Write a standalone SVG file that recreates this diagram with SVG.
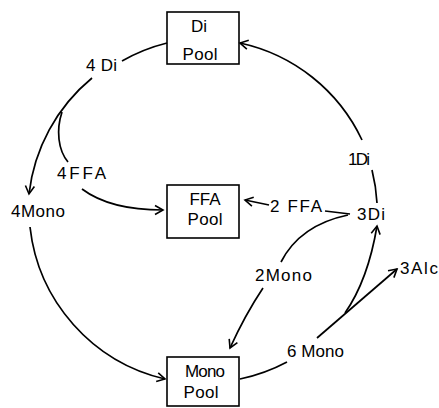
<svg xmlns="http://www.w3.org/2000/svg" width="439" height="408" viewBox="0 0 439 408">
<defs>
<marker id="arr" viewBox="-9 -6 11 12" refX="0" refY="0" markerWidth="11" markerHeight="12" markerUnits="userSpaceOnUse" orient="auto">
<path d="M-8,-4.5 L0,0 L-8,4.5" fill="none" stroke="#000" stroke-width="1.6"/>
</marker>
<style>
.box{fill:#fff;stroke:#000;stroke-width:1.6}
.t{font-family:"Liberation Sans",Arial,sans-serif;font-size:17px;fill:#000}
.m{text-anchor:middle}
.c{fill:none;stroke:#000;stroke-width:1.7}
.a{marker-end:url(#arr)}
</style>
</defs>
<rect width="439" height="408" fill="#fff"/>
<g id="di-pool">
<rect class="box" x="167" y="12" width="72" height="52"/>
<text class="t m" x="199" y="32">Di</text>
<text class="t m" x="200" y="60" textLength="35">Pool</text>
</g>
<g id="ffa-pool">
<rect class="box" x="167" y="185" width="72" height="53"/>
<text class="t m" x="205" y="205" textLength="31">FFA</text>
<text class="t m" x="205" y="225" textLength="35">Pool</text>
</g>
<g id="mono-pool">
<rect class="box" x="167" y="357" width="72" height="49"/>
<text class="t m" x="205" y="377" textLength="40">Mono</text>
<text class="t m" x="201" y="398" textLength="35">Pool</text>
</g>
<g id="labels">
<text class="t" x="86" y="71" textLength="31">4 Di</text>
<text class="t" x="57" y="179" textLength="49">4FFA</text>
<text class="t" x="11" y="217" textLength="54">4Mono</text>
<text class="t" x="348" y="165" textLength="22">1Di</text>
<text class="t" x="270" y="212" textLength="52">2 FFA</text>
<text class="t" x="357" y="220" textLength="28">3Di</text>
<text class="t" x="255" y="281" textLength="57">2Mono</text>
<text class="t" x="287" y="357" textLength="57">6 Mono</text>
<text class="t" x="400" y="274" textLength="38">3Alc</text>
</g>
<g id="connectors">
<path class="c a" d="M362,140 A176,176 0 0,0 240,43"/>
<path class="c" d="M167,43 A176,176 0 0,0 122,61"/>
<path class="c a" d="M92,78 A176,176 0 0,0 29,194"/>
<path class="c" d="M62,112 C56,130 58,150 68,162"/>
<path class="c a" d="M82,189 Q110,210 163,210"/>
<path class="c a" d="M30,227 A176,176 0 0,0 165,379"/>
<path class="c" d="M240,379 A176,176 0 0,0 287,362"/>
<path class="c" d="M377,203 A176,176 0 0,0 372,170"/>
<path class="c a" d="M317,338 L397,269"/>
<path class="c a" d="M345,313 Q368,280 377,226"/>
<path class="c" d="M350,214 L325,211"/>
<path class="c a" d="M269,205 L245,200"/>
<path class="c" d="M348,215 Q300,225 281,262"/>
<path class="c a" d="M263,288 Q245,315 230,348"/>
</g>
</svg>
